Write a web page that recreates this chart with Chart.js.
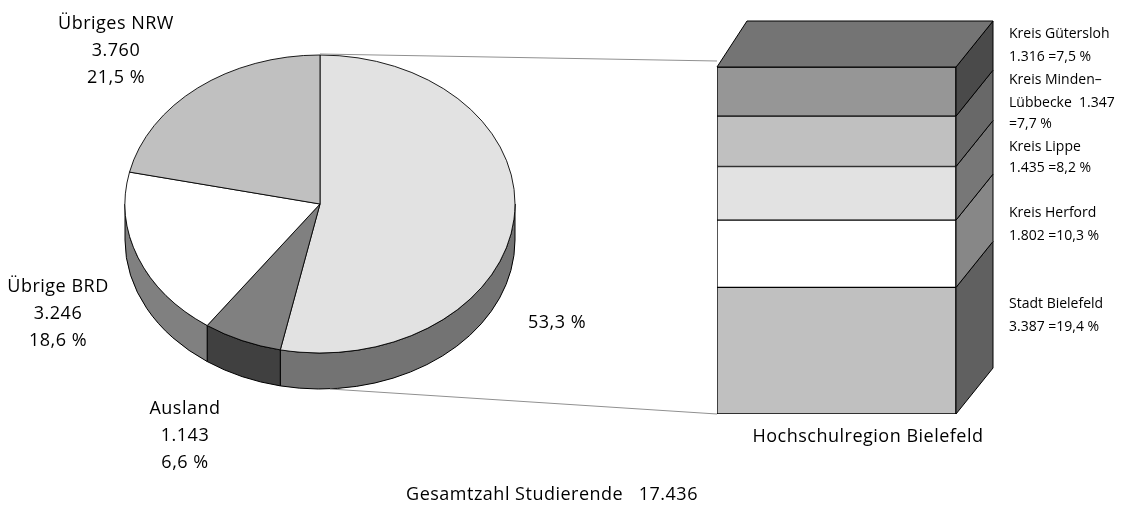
<!DOCTYPE html>
<html>
<head>
<meta charset="utf-8">
<script src="https://cdn.jsdelivr.net/npm/chart.js@4.4.1/dist/chart.umd.min.js"></script>
<style>
  html, body { margin: 0; padding: 0; background: #fff; }
  #wrap { position: relative; width: 1133px; height: 508px; }
  canvas { position: absolute; left: 0; top: 0; }
</style>
</head>
<body>
<div id="wrap">
  <canvas id="pieChart" width="1133" height="508"></canvas>
  <canvas id="barChart" width="1133" height="508"></canvas>
</div>
<script>
// Studierende nach Herkunft
var pieLabels = ['Hochschulregion Bielefeld', 'Ausland', 'Übrige BRD', 'Übriges NRW'];
var pieValues = [9287, 1143, 3246, 3760];
var pieValueText = ['', '1.143', '3.246', '3.760'];
var piePercentText = ['53,3 %', '6,6 %', '18,6 %', '21,5 %'];

// Hochschulregion, von unten nach oben
var regionLabels = ['Stadt Bielefeld', 'Kreis Herford', 'Kreis Lippe', 'Kreis Minden-Lübbecke', 'Kreis Gütersloh'];
var regionValues = [3387, 1802, 1435, 1347, 1316];
var regionPercentText = ['19,4', '10,3', '8,2', '7,7', '7,5'];

var totalText = '17.436';

var pieColors = ['#e2e2e2', '#808080', '#ffffff', '#c0c0c0'];
var pieSideColors = ['#737373', '#404040', '#808080', '#606060'];
var barColors = ['#c0c0c0', '#ffffff', '#e2e2e2', '#c0c0c0', '#969696'];
var barSideColors = ['#606060', '#878787', '#777777', '#686868', '#4a4a4a'];

var FONT = '"Open Sans", sans-serif';
var squash = 149 / 195;
var depth = 36;

var pie3d = {
    id: 'pie3d',
    beforeDatasetsDraw: function (chart) {
        var ctx = chart.ctx;
        var arcs = chart.getDatasetMeta(0).data;
        var cx = arcs[0].x, cy = arcs[0].y, r = arcs[0].outerRadius, ry = r * squash;
        ctx.save();
        ctx.lineWidth = 1;
        ctx.strokeStyle = '#000';
        arcs.forEach(function (a, i) {
            var s = Math.max(a.startAngle, 0);
            var e = Math.min(a.endAngle, Math.PI);
            if (e <= s) return;
            ctx.beginPath();
            ctx.ellipse(cx, cy, r, ry, 0, s, e);
            ctx.lineTo(cx + r * Math.cos(e), cy + ry * Math.sin(e) + depth);
            ctx.ellipse(cx, cy + depth, r, ry, 0, e, s, true);
            ctx.closePath();
            ctx.fillStyle = pieSideColors[i];
            ctx.fill();
            ctx.stroke();
        });
        ctx.restore();
        // Oberseite als Ellipse
        ctx.save();
        ctx.translate(cx, cy);
        ctx.scale(1, squash);
        ctx.translate(-cx, -cy);
    },
    afterDatasetsDraw: function (chart) {
        chart.ctx.restore();
    }
};

var pieChart = new Chart(document.getElementById('pieChart'), {
    type: 'pie',
    data: {
        labels: pieLabels,
        datasets: [{
            data: pieValues,
            backgroundColor: pieColors,
            borderColor: '#000',
            borderWidth: 1,
            radius: 195
        }]
    },
    options: {
        responsive: false,
        animation: false,
        layout: { padding: { left: 125, right: 618, top: 9, bottom: 109 } },
        plugins: { legend: { display: false }, tooltip: { enabled: false } }
    },
    plugins: [pie3d]
});

var total = regionValues.reduce(function (a, b) { return a + b; }, 0);

var bar3d = {
    id: 'bar3d',
    afterDatasetsDraw: function (chart) {
        var ctx = chart.ctx;
        var n = chart.data.datasets.length;
        ctx.save();
        ctx.lineWidth = 1;
        ctx.strokeStyle = '#000';
        for (var i = 0; i < n; i++) {
            var b = chart.getDatasetMeta(i).data[0];
            var left = b.x - b.width / 2, right = b.x + b.width / 2;
            ctx.beginPath();
            ctx.moveTo(right, b.y);
            ctx.lineTo(right + 37, b.y - 46);
            ctx.lineTo(right + 37, b.base - 46);
            ctx.lineTo(right, b.base);
            ctx.closePath();
            ctx.fillStyle = barSideColors[i];
            ctx.fill();
            ctx.stroke();
            if (i === n - 1) {
                ctx.beginPath();
                ctx.moveTo(left, b.y);
                ctx.lineTo(left + 30, b.y - 46);
                ctx.lineTo(right + 37, b.y - 46);
                ctx.lineTo(right, b.y);
                ctx.closePath();
                ctx.fillStyle = '#747474';
                ctx.fill();
                ctx.stroke();
            }
        }
        ctx.restore();
    },
    afterDraw: function (chart) {
        var ctx = chart.ctx;
        var arc = pieChart.getDatasetMeta(0).data[0];
        var cx = arc.x, cy = arc.y, ry = arc.outerRadius * squash;
        var top = chart.getDatasetMeta(chart.data.datasets.length - 1).data[0];
        var bottom = chart.getDatasetMeta(0).data[0];
        var barLeft = bottom.x - bottom.width / 2;

        ctx.save();
        // Verbindungslinien
        ctx.strokeStyle = '#909090';
        ctx.lineWidth = 1;
        ctx.beginPath();
        ctx.moveTo(cx, cy - ry - 1);
        ctx.lineTo(barLeft, top.y - 6);
        ctx.moveTo(cx + 10, cy + ry + depth);
        ctx.lineTo(barLeft, bottom.base);
        ctx.stroke();

        ctx.fillStyle = '#000';
        ctx.textBaseline = 'middle';
        ctx.textAlign = 'center';
        ctx.font = '18px ' + FONT;
        ctx.letterSpacing = '0.5px';
        function block(x, y, lines) {
            lines.forEach(function (t, k) { ctx.fillText(t, x, y + k * 27); });
        }
        block(116, 24, [pieLabels[3], pieValueText[3], piePercentText[3]]);
        block(58, 287, [pieLabels[2], pieValueText[2], piePercentText[2]]);
        block(185, 409, [pieLabels[1], pieValueText[1], piePercentText[1]]);
        ctx.fillText(piePercentText[0], 557, 323);
        ctx.fillText(pieLabels[0], 868, 437);
        ctx.fillText('Gesamtzahl Studierende   ' + totalText, 552, 495);

        ctx.textAlign = 'left';
        ctx.font = '14px ' + FONT;
        ctx.letterSpacing = '0px';
        var x = 1009;
        ctx.fillText(regionLabels[4], x, 34);
        ctx.fillText('1.316 =' + regionPercentText[4] + ' %', x, 57);
        ctx.fillText('Kreis Minden–', x, 80);
        ctx.fillText('Lübbecke  1.347', x, 103);
        ctx.fillText('=' + regionPercentText[3] + ' %', x, 124);
        ctx.fillText(regionLabels[2], x, 147);
        ctx.fillText('1.435 =' + regionPercentText[2] + ' %', x, 168);
        ctx.fillText(regionLabels[1], x, 213);
        ctx.fillText('1.802 =' + regionPercentText[1] + ' %', x, 236);
        ctx.fillText(regionLabels[0], x, 304);
        ctx.fillText('3.387 =' + regionPercentText[0] + ' %', x, 327);
        ctx.restore();
    }
};

new Chart(document.getElementById('barChart'), {
    type: 'bar',
    data: {
        labels: [pieLabels[0]],
        datasets: regionLabels.map(function (l, i) {
            return {
                label: l,
                data: [regionValues[i]],
                backgroundColor: barColors[i],
                borderColor: '#000',
                borderWidth: 1,
                borderSkipped: false,
                barPercentage: 1,
                categoryPercentage: 1
            };
        })
    },
    options: {
        responsive: false,
        animation: false,
        layout: { padding: { left: 717, right: 177, top: 67, bottom: 94 } },
        scales: {
            x: { display: false, stacked: true },
            y: { display: false, stacked: true, min: 0, max: total }
        },
        plugins: { legend: { display: false }, tooltip: { enabled: false } }
    },
    plugins: [bar3d]
});
</script>
</body>
</html>
